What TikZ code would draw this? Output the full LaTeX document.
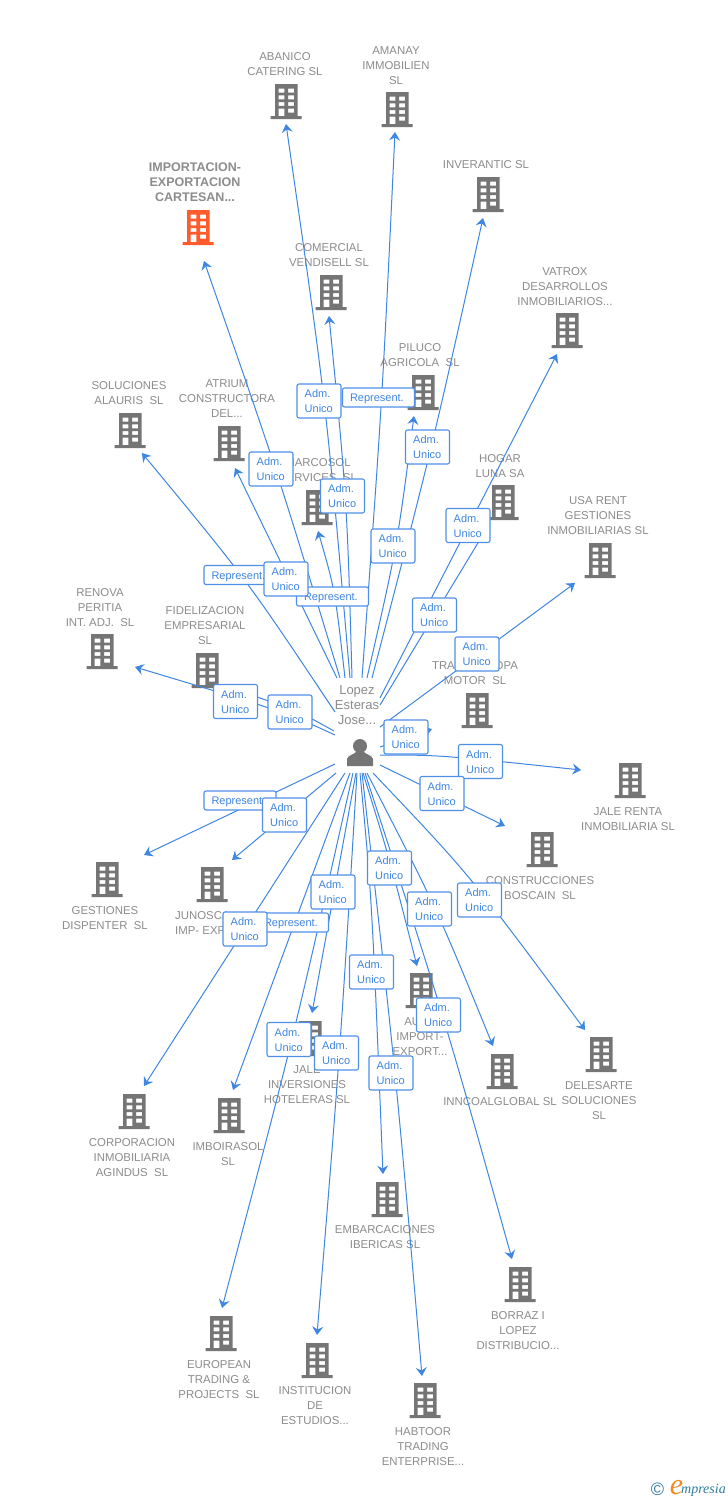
\documentclass[tikz,border=0pt]{standalone}
\usepackage{fontspec}
\setmainfont{Liberation Sans}
\newfontfamily\logofont{Liberation Serif}
\usetikzlibrary{arrows.meta}
\definecolor{linkc}{HTML}{3F86E2}
\definecolor{boxc}{HTML}{4F8FE8}
\definecolor{boxt}{HTML}{3F86E2}
\definecolor{greyt}{HTML}{8C8C8C}
\definecolor{bldc}{HTML}{757575}
\definecolor{orangec}{HTML}{FF5C2E}
\definecolor{logob}{HTML}{2F7C9E}
\definecolor{logoo}{HTML}{F58A1F}
\tikzset{
  link/.style={draw=linkc,line width=1pt,-{Stealth[length=8.5pt,width=11pt,inset=3pt]}},
  bnode/.style={minimum width=32pt,minimum height=36pt,inner sep=0pt},
  lbl/.style={align=center,inner sep=0pt,text=greyt,font=\fontsize{11.4}{15}\selectfont},
  blbl/.style={align=center,inner sep=0pt,text=greyt,font=\fontsize{12.5}{15}\selectfont\bfseries},
  hublbl/.style={align=center,inner sep=0pt,text=greyt,font=\fontsize{13}{15}\selectfont},
  admbox/.style={draw=boxc,fill=white,line width=1.1pt,rounded corners=2pt,align=left,text=boxt,
    font=\fontsize{11}{15}\selectfont,text width=30pt,inner xsep=7pt,inner ysep=0pt,minimum height=34pt,text height=9pt,text depth=16pt},
  repbox/.style={draw=boxc,fill=white,line width=1.1pt,rounded corners=2pt,align=left,text=boxt,
    font=\fontsize{11}{15}\selectfont,text width=58pt,inner xsep=7pt,inner ysep=0pt,minimum height=19pt,text height=9pt,text depth=1pt}
}
\newcommand{\bld}[4][bldc]{%
  \node[bnode] (#2) at (#3,#4) {};
  \begin{scope}[shift={(#3,#4)}]
    \fill[#1,even odd rule]
      (-15.5,14) rectangle (15.5,17)
      (-11,-18) rectangle (11.5,14)
      (-7.3,-13.5) rectangle (-1.7,-9.3) (2.2,-13.5) rectangle (8,-9.3)
      (-7.3,-6.7) rectangle (-1.7,-2.7) (2.2,-6.7) rectangle (8,-2.7)
      (-7.3,0) rectangle (-1.7,3.9) (2.2,0) rectangle (8,3.9)
      (-7.3,6.7) rectangle (-1.7,14) (2.2,6.7) rectangle (8,10.7);
  \end{scope}}
\newcommand{\lab}[4]{\node[lbl] (#1) at (#2,#3) {#4};}
\newcommand{\conn}[5]{\draw[link] ([shift={(#2,#3)}]hub.center) -- ([shift={(#4,#5)}]#1.center);}
\newcommand{\connc}[7]{\draw[link] ([shift={(#2,#3)}]hub.center) .. controls ([shift={(#6,#7)}]hub.center) .. ([shift={(#4,#5)}]#1.center);}
\newcommand{\adm}[3]{\node[admbox] (#1) at (#2,#3) {\hspace*{0.7pt}Adm.\\\hspace*{0.7pt}Unico};}
\newcommand{\rep}[3]{\node[repbox] (#1) at (#2,#3) {\hspace*{0.5pt}Represent.};}
\begin{document}
\begin{tikzpicture}[x=1pt,y=-1pt]
\useasboundingbox (0,0) rectangle (728,1500);
\fill[white] (0,0) rectangle (728,1500);
% labels
\node[blbl] (limp) at (195,182.5) {IMPORTACION-\\EXPORTACION\\CARTESAN...};
\lab{laba}{285}{64.5}{ABANICO\\CATERING SL}
\lab{lama}{396}{66}{AMANAY\\IMMOBILIEN\\SL}
\lab{linv}{486}{165}{INVERANTIC SL}
\lab{lcom}{329}{255.5}{COMERCIAL\\VENDISELL SL}
\lab{lvat}{565}{287}{VATROX\\DESARROLLOS\\INMOBILIARIOS...}
\lab{lpil}{420}{355.5}{PILUCO\\AGRICOLA~ SL}
\lab{lsol}{129}{393.5}{SOLUCIONES\\ALAURIS~ SL}
\lab{latr}{227}{399}{ATRIUM\\CONSTRUCTORA\\DEL...}
\lab{lmar}{318}{470.5}{MARCOSOL\\SERVICES~ SL}
\lab{lhog}{500}{466.5}{HOGAR\\LUNA SA}
\lab{lusa}{598}{516}{USA RENT\\GESTIONES\\INMOBILIARIAS SL}
\lab{lren}{100}{608}{RENOVA\\PERITIA\\INT. ADJ.~ SL}
\lab{lfid}{205}{626}{FIDELIZACION\\EMPRESARIAL\\SL}
\lab{ltra}{475}{673.5}{TRANSEUROPA\\MOTOR~ SL}
\lab{ljal}{628}{819.5}{JALE RENTA\\INMOBILIARIA SL}
\lab{lcon}{540}{888.5}{CONSTRUCCIONES\\BOSCAIN~ SL}
\lab{lges}{105}{918.5}{GESTIONES\\DISPENTER~ SL}
\node[lbl,align=left,anchor=west] (ljun) at (175,923.5) {JUNOSCA\\IMP- EXP};
\lab{laut}{420}{1037}{AUTO\\IMPORT-\\EXPORT...}
\lab{ljin}{307}{1085}{JALE\\INVERSIONES\\HOTELERAS SL}
\lab{ldel}{599}{1101}{DELESARTE\\SOLUCIONES\\SL}
\lab{linn}{500}{1102}{INNCOALGLOBAL SL}
\lab{lcor}{132}{1158}{CORPORACION\\INMOBILIARIA\\AGINDUS~ SL}
\lab{limb}{228}{1154.5}{IMBOIRASOL\\SL}
\lab{lemb}{385}{1237.5}{EMBARCACIONES\\IBERICAS SL}
\lab{lbor}{518}{1331}{BORRAZ I\\LOPEZ\\DISTRIBUCIO...}
\lab{leur}{219}{1380}{EUROPEAN\\TRADING \&\\PROJECTS~ SL}
\lab{lins}{315}{1406}{INSTITUCION\\DE\\ESTUDIOS...}
\lab{lhab}{423}{1447}{HABTOOR\\TRADING\\ENTERPRISE...}
% buildings
\bld[orangec]{imp}{198}{228}
\bld{aba}{286}{102}
\bld{ama}{397}{110}
\bld{inv}{488}{195}
\bld{com}{331}{293}
\bld{vat}{567}{331}
\bld{pil}{423}{393}
\bld{sol}{130}{431}
\bld{atr}{229}{444}
\bld{mar}{317}{508}
\bld{hog}{503}{503}
\bld{usa}{600}{561}
\bld{ren}{102}{652}
\bld{fid}{207}{671}
\bld{tra}{477}{711}
\bld{jal}{630}{781}
\bld{con}{542}{850}
\bld{ges}{107}{880}
\bld{jun}{212}{885}
\bld{aut}{421}{991}
\bld{jin}{310}{1039}
\bld{del}{601}{1055}
\bld{inn}{502}{1072}
\bld{cor}{134}{1112}
\bld{imb}{229}{1116}
\bld{emb}{387}{1200}
\bld{bor}{520}{1285}
\bld{eur}{221}{1334}
\bld{ins}{317}{1361}
\bld{hab}{425}{1401}
% hub
\node[minimum width=30pt,minimum height=30pt,inner sep=0pt] (hub) at (360,752) {};
\fill[bldc] (360,746) circle (7);
\fill[bldc] (347,766) -- (347,759) .. controls (348,755) and (354,754.5) .. (356,752) -- (364,752) .. controls (366,754.5) and (372,755) .. (373,759) -- (373,766) -- cycle;
\node[hublbl] (lhub) at (357,705) {Lopez\\Esteras\\Jose...};
% connectors
\connc{imp}{-20}{-74}{6}{33}{-83}{-282}
\connc{aba}{-10}{-74}{0}{22}{-34}{-351}
\connc{ama}{2}{-74}{-2}{22}{22}{-347}
\connc{inv}{12}{-74}{-5}{23}{72}{-304}
\connc{com}{-8}{-74}{-2}{23}{-13}{-252}
\conn{vat}{20}{-54}{-10}{23}
\connc{pil}{7}{-74}{-9}{23}{37}{-205}
\connc{sol}{-25}{-40}{12}{22}{-113}{-172}
\conn{atr}{-23}{-74}{6}{24}
\connc{mar}{-15}{-74}{1}{23}{-25}{-162}
\conn{hog}{20}{-47}{-16}{25}
\conn{usa}{20}{-25}{-25}{22}
\connc{ren}{-25}{-17}{33}{15}{-75}{-40}
\connc{fid}{-26}{-21}{36}{21}{-60}{-40}
\conn{tra}{20}{-5}{-45}{18}
\connc{jal}{20}{3}{-49}{-11}{80}{3}
\conn{con}{20}{13}{-37}{-24}
\conn{ges}{-25}{12}{37}{-25}
\conn{jun}{-24}{21}{20}{-25}
\connc{aut}{3}{21}{-4}{-25}{30}{108}
\conn{jin}{-4}{21}{2}{-26}
\connc{del}{13}{21}{-16}{-25}{110}{123}
\connc{inn}{7}{21}{-9}{-26}{77}{157}
\conn{cor}{-15}{21}{10}{-26}
\conn{imb}{-10}{21}{4}{-26}
\connc{emb}{0}{21}{-4}{-26}{12}{148}
\connc{bor}{5}{21}{-8}{-26}{84}{264}
\connc{eur}{-7}{21}{1}{-26}{-67}{288}
\connc{ins}{-3}{21}{0}{-26}{-20}{302}
\connc{hab}{2}{21}{-3}{-25}{36}{322}
% boxes
\adm{a1}{319}{401}
\rep{r1}{378.5}{397.5}
\adm{a2}{427.5}{447}
\adm{a3}{271}{469}
\adm{a4}{342.5}{496}
\adm{a5}{393}{546}
\adm{a6}{468}{525.5}
\rep{r2}{240}{575}
\rep{r3}{332.5}{596.5}
\adm{a7}{286}{579}
\adm{a8}{434.5}{615}
\adm{a9}{477}{654}
\adm{a10}{235.5}{701.5}
\adm{a11}{290}{712}
\adm{a12}{406}{737}
\adm{a13}{480.5}{761.5}
\adm{a14}{442}{793.5}
\rep{r4}{240}{800.5}
\adm{a15}{284.5}{815}
\adm{a16}{389.5}{868}
\adm{a17}{333}{892}
\adm{a18}{429.5}{909}
\adm{a19}{479.5}{900}
\rep{r5}{292.5}{922.5}
\adm{a20}{245}{929}
\adm{a21}{371.5}{972}
\adm{a22}{438.5}{1015}
\adm{a23}{289}{1039.5}
\adm{a24}{336.5}{1053}
\adm{a25}{391}{1073}
% logo
\node[inner sep=0pt,text=logob,font=\fontsize{18}{18}\selectfont] (lc) at (657.5,1489) {©};
\node[inner sep=0pt,text=logoo,anchor=base,font=\logofont\itshape\fontsize{30}{30}\selectfont] (le) at (676.5,1494) {e};
\node[inner sep=0pt,text=logob,anchor=base west,font=\logofont\itshape\fontsize{14}{14}\selectfont] (lm) at (681,1493) {mpresia};
\end{tikzpicture}
\end{document}
